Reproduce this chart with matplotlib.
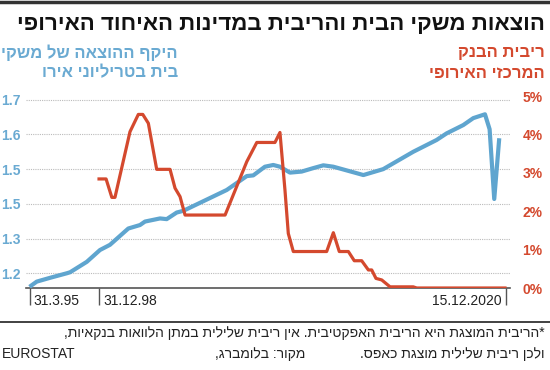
import matplotlib
matplotlib.use("Agg")
from matplotlib import pyplot as plt

plt.rcParams['font.family'] = ['Liberation Sans', 'DejaVu Sans']

BLUE = '#5fa5cf'
BLUE_TXT = '#6aaad2'
RED = '#d4492e'
DARK = '#333333'

# ---Household spending, trillion euro---
spend_years = [1995.25, 1995.64, 1996.36, 1997.26, 1997.44, 1998.34, 1999.05, 1999.59,
               2000.58, 2001.21, 2001.48, 2002.29, 2002.65, 2003.19, 2003.55, 2005.89,
               2006.97, 2007.32, 2007.95, 2008.40, 2008.76, 2009.30, 2009.93, 2010.56,
               2011.10, 2011.64, 2013.26, 2014.33, 2015.95, 2017.21, 2017.75, 2018.65,
               2019.19, 2019.82, 2020.07, 2020.32, 2020.59]
spend_values = [1.161, 1.176, 1.187, 1.200, 1.203, 1.233, 1.267, 1.282,
                1.329, 1.339, 1.349, 1.358, 1.356, 1.375, 1.380, 1.440,
                1.480, 1.482, 1.507, 1.512, 1.507, 1.490, 1.493, 1.503,
                1.511, 1.507, 1.483, 1.500, 1.550, 1.584, 1.603, 1.627,
                1.647, 1.658, 1.615, 1.414, 1.589]

# ---ECB effective rate, %---
rate_years = [1999.0, 1999.38, 1999.69, 1999.86, 2000.67, 2001.12, 2001.36, 2001.66,
              2002.11, 2002.83, 2003.10, 2003.37, 2003.64, 2005.80, 2006.97, 2007.51,
              2008.49, 2008.76, 2009.03, 2009.21, 2009.48, 2011.28, 2011.64, 2011.96,
              2012.45, 2012.77, 2013.17, 2013.53, 2013.71, 2013.94, 2014.25, 2014.70,
              2015.95, 2016.14, 2020.90]
rate_values = [2.84, 2.84, 2.36, 2.36, 4.07, 4.52, 4.52, 4.29,
               3.09, 3.09, 2.60, 2.38, 1.90, 1.90, 3.29, 3.79,
               3.79, 4.05, 2.55, 1.42, 0.95, 0.95, 1.44, 0.95,
               0.95, 0.71, 0.71, 0.47, 0.47, 0.25, 0.21, 0.03,
               0.03, 0.0, 0.0]

tick_years = [1995.25, 1999.0, 2020.96]
tick_labels = ['31.3.95', '31.12.98', '15.12.2020']
left_ticks = [1.2, 1.3, 1.4, 1.5, 1.6, 1.7]
left_labels = ['1.2', '1.3', '1.5', '1.5', '1.6', '1.7']
right_ticks = [0, 1, 2, 3, 4, 5]
right_labels = ['0%', '1%', '2%', '3%', '4%', '5%']


def rtl(s):
    # matplotlib draws left to right, so flip the hebrew
    return s[::-1]


W, H = 550, 370
fig = plt.figure(figsize=(5.5, 3.7), dpi=100)
ax = fig.add_axes([26 / W, 1 - 288 / H, (510 - 26) / W, (288 - 96) / H])

ax.plot(spend_years, spend_values, color=BLUE, lw=3.0, solid_joinstyle='round',
        solid_capstyle='butt', zorder=3)
ax.set_xlim(1995.06, 2021.17)
ax.set_ylim(1.1576, 1.7107)
ax.set_yticks(left_ticks)
ax.set_yticklabels(left_labels)
ax.tick_params(axis='y', length=0, pad=4, labelcolor=BLUE_TXT, labelsize=10)
for t in ax.get_yticklabels():
    t.set_fontweight('bold')
ax.grid(axis='y', color='#bbbbbb', linestyle=(0, (1, 1)), lw=0.8)
ax.set_axisbelow(True)

for side in ['top', 'right', 'left']:
    ax.spines[side].set_visible(False)
ax.spines['bottom'].set_color('#555555')
ax.spines['bottom'].set_linewidth(1.2)

ax.set_xticks(tick_years)
ax.set_xticklabels([])
ax.set_xticks(tick_years, minor=True)
ax.tick_params(axis='x', which='major', direction='out', length=12, width=1, color='#555555')
ax.tick_params(axis='x', which='minor', direction='in', length=5, width=1, color='#555555')
for yr, lab in zip(tick_years, tick_labels):
    right = yr > 2010
    ax.annotate(lab, xy=(yr, 0), xycoords=('data', 'axes fraction'),
                xytext=(-3 if right else 3, -4), textcoords='offset points',
                ha='right' if right else 'left', va='top', fontsize=10, color='#222222')

ax2 = ax.twinx()
ax2.plot(rate_years, rate_values, color=RED, lw=2.3, solid_joinstyle='round', zorder=3)
ax2.set_ylim(0, 5)
ax2.set_yticks(right_ticks)
ax2.set_yticklabels(right_labels)
ax2.tick_params(axis='y', length=0, pad=9, labelcolor=RED, labelsize=10)
for t in ax2.get_yticklabels():
    t.set_fontweight('bold')
for s in ax2.spines.values():
    s.set_visible(False)

# ---Header and legend texts---
fig.add_artist(plt.Line2D([0, 1], [1 - 1.5 / H, 1 - 1.5 / H], color=DARK, lw=2.5))
fig.text(545 / W, 1 - 24 / H, rtl('הוצאות משקי הבית והריבית במדינות האיחוד האירופי'),
         ha='right', va='center', fontsize=16, fontweight='bold', color='#111111')
fig.text(545 / W, 1 - 53 / H, rtl('ריבית הבנק'), ha='right', va='center',
         fontsize=12, fontweight='bold', color=RED)
fig.text(545 / W, 1 - 73 / H, rtl('המרכזי האירופי'), ha='right', va='center',
         fontsize=12, fontweight='bold', color=RED)
fig.text(178 / W, 1 - 53 / H, rtl('היקף ההוצאה של משקי'), ha='right', va='center',
         fontsize=12, fontweight='bold', color=BLUE_TXT)
fig.text(178 / W, 1 - 73 / H, rtl('בית בטריליוני אירו'), ha='right', va='center',
         fontsize=12, fontweight='bold', color=BLUE_TXT)

# ---Footnote---
fig.add_artist(plt.Line2D([0, 1], [1 - 322 / H, 1 - 322 / H], color=DARK, lw=1.3))
fig.text(545 / W, 1 - 333 / H,
         rtl('*הריבית המוצגת היא הריבית האפקטיבית. אין ריבית שלילית במתן הלוואות בנקאיות,'),
         ha='right', va='center', fontsize=10, color='#222222')
fig.text(545 / W, 1 - 354 / H, rtl('ולכן ריבית שלילית מוצגת כאפס.'),
         ha='right', va='center', fontsize=10, color='#222222')
fig.text(305 / W, 1 - 354 / H, rtl('מקור: בלומברג,'),
         ha='right', va='center', fontsize=10, color='#222222')
fig.text(2 / W, 1 - 354 / H, 'EUROSTAT', ha='left', va='center', fontsize=10, color='#222222')

fig.savefig('out.png', dpi=100)
